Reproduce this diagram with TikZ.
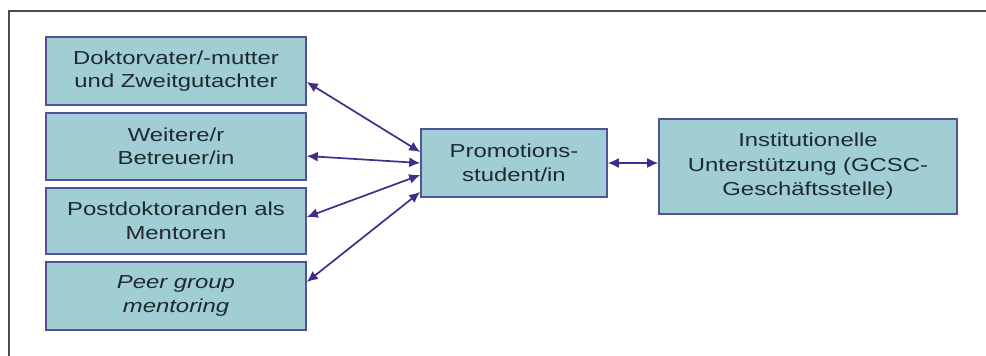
\documentclass[tikz,border=0pt]{standalone}
\usepackage{fontspec}
\setmainfont[FakeStretch=1.27]{Liberation Sans}
\usetikzlibrary{arrows.meta}
\definecolor{boxfill}{RGB}{160,206,212}
\definecolor{boxline}{RGB}{82,82,150}
\definecolor{arrowc}{RGB}{60,46,138}
\definecolor{txt}{RGB}{30,42,46}
\tikzset{
  box/.style={draw=boxline, line width=1.6pt, fill=boxfill, text=txt, align=center,
    inner sep=0pt, font=\fontsize{18.8}{23.5}\selectfont},
  link/.style={draw=arrowc, line width=1.7pt, {Latex[length=11pt,width=10pt]}-{Latex[length=11pt,width=10pt]}},
}
\begin{document}
\begin{tikzpicture}[x=1pt,y=-1pt]
\useasboundingbox (0,0) rectangle (986,356);
\draw[line width=1.2pt, color=black!70] (9,356) -- (9,11) -- (986,11);
\node[box, minimum width=260pt, minimum height=68pt] (b1) at (176,71) {Doktorvater/-mutter\\und Zweitgutachter};
\node[box, minimum width=260pt, minimum height=67pt] (b2) at (176,146.5) {Weitere/r\\Betreuer/in};
\node[box, minimum width=260pt, minimum height=66pt] (b3) at (176,221) {Postdoktoranden als\\Mentoren};
\node[box, minimum width=260pt, minimum height=68pt] (b4) at (176,296) {\itshape Peer group\\\itshape mentoring};
\node[box, minimum width=186pt, minimum height=68pt] (c) at (514,163) {Promotions-\\student/in};
\node[box, minimum width=298pt, minimum height=95pt, font=\fontsize{18.8}{24.5}\selectfont] (r) at (808,166.5) {Institutionelle\\Unterstützung (GCSC-\\Geschäftsstelle)};
\draw[link] ([yshift=-11pt]b1.east) -- ([yshift=11pt]c.west);
\draw[link] ([yshift=-9.5pt]b2.east) -- ([yshift=0pt]c.west);
\draw[link] ([yshift=4pt]b3.east) -- ([yshift=-12pt]c.west);
\draw[link] ([yshift=14pt]b4.east) -- ([yshift=-29pt]c.west);
\draw[link] (c.east) -- (c.east -| r.west);
\end{tikzpicture}
\end{document}
